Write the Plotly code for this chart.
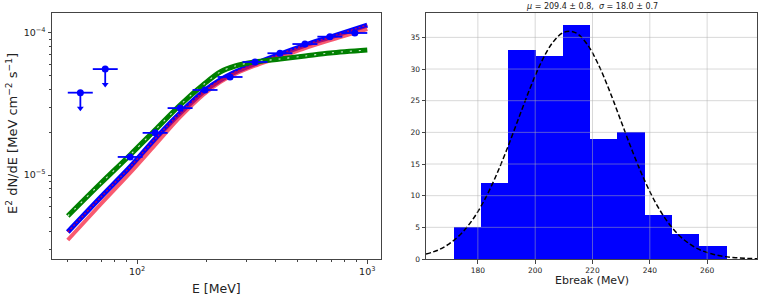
import plotly.graph_objects as go

# ---------------- Left panel: spectral energy distribution ----------------
bin_edges = [50.0, 64.2, 82.4, 105.7, 135.7, 174.2, 223.6, 287.1, 368.5, 473.0, 607.2, 779.4, 1000.0]

ul_energy = [56.7, 72.7]
ul_flux = [3.8e-5, 5.57e-5]

pt_energy = [93.3, 119.8, 153.8, 197.3, 253.4, 325.3, 417.5, 535.9, 687.9, 883.0]
pt_flux = [1.34e-5, 1.98e-5, 2.96e-5, 3.97e-5, 4.9e-5, 6.25e-5, 7.2e-5, 8.36e-5, 9.42e-5, 1.0e-4]

model_energy = [50, 69, 93.2, 119.7, 153.8, 195.6, 229.6, 266.8, 322.6, 418.5, 537.6, 690.5, 1000]
blue_model = [3.97e-6, 6.89e-6, 1.138e-5, 1.793e-5, 2.733e-5, 3.904e-5, 4.667e-5, 5.313e-5,
              6.048e-5, 7.11e-5, 8.23e-5, 9.37e-5, 1.138e-4]
green_model = [5.144e-6, 8.64e-6, 1.383e-5, 2.074e-5, 3.111e-5, 4.373e-5, 5.313e-5, 5.856e-5,
               6.249e-5, 6.561e-5, 6.887e-5, 7.231e-5, 7.59e-5]
red_model = [3.485e-6, 6.147e-6, 1.033e-5, 1.627e-5, 2.562e-5, 3.718e-5, 4.517e-5, 5.144e-5,
             5.856e-5, 6.776e-5, 7.842e-5, 8.928e-5, 1.067e-4]

ul_arrow_factor = 0.778

left_xticks = [100, 1000]
left_xticktext = ["10<sup>2</sup>", "10<sup>3</sup>"]
left_yticks = [1e-5, 1e-4]
left_yticktext = ["10<sup>−5</sup>", "10<sup>−4</sup>"]
left_xminor = [50, 60, 70, 80, 90, 200, 300, 400, 500, 600, 700, 800, 900]
left_yminor = [3e-6, 4e-6, 5e-6, 6e-6, 7e-6, 8e-6, 9e-6,
               2e-5, 3e-5, 4e-5, 5e-5, 6e-5, 7e-5, 8e-5, 9e-5]

# ---------------- Right panel: histogram of Ebreak ----------------
hist_edges = [171.6, 181.1, 190.6, 200.2, 209.7, 219.2, 228.7, 238.3, 247.8, 257.3, 266.8]
hist_counts = [5, 12, 33, 32, 37, 19, 20, 7, 4, 2]

gauss_x = [161.9, 166, 170, 174, 178, 182, 186, 190, 194, 198, 202, 206, 210, 214, 218,
           222, 226, 230, 234, 238, 242, 246, 250, 254, 258, 262, 266, 270, 274, 277.4]
gauss_y = [0.77, 1.39, 2.40, 3.92, 6.11, 9.06, 12.79, 17.17, 21.96, 26.72, 30.95, 34.12,
           35.80, 35.76, 33.99, 30.76, 26.49, 21.71, 16.94, 12.58, 8.90, 5.99, 3.83, 2.34,
           1.35, 0.75, 0.39, 0.20, 0.094, 0.048]

right_xticks = [180, 200, 220, 240, 260]
right_yticks = [0, 5, 10, 15, 20, 25, 30, 35]
title_text = "<i>μ</i> = 209.4 ± 0.8,  <i>σ</i> = 18.0 ± 0.7"

W, H = 758, 296
FONT = "DejaVu Sans"
BLUE = "#0000ff"
FRAME = "#444444"
TXT = "#222222"

fig = go.Figure()

# model curves
spl = dict(shape="spline", smoothing=0.9)
fig.add_trace(go.Scatter(x=model_energy, y=blue_model, mode="lines",
                         line=dict(color=BLUE, width=5, **spl),
                         xaxis="x", yaxis="y", showlegend=False, hoverinfo="skip"))
fig.add_trace(go.Scatter(x=model_energy, y=red_model, mode="lines",
                         line=dict(color="rgba(245,20,50,0.7)", width=4, **spl),
                         xaxis="x", yaxis="y", showlegend=False, hoverinfo="skip"))
fig.add_trace(go.Scatter(x=model_energy, y=blue_model, mode="lines",
                         line=dict(color="rgba(220,0,60,0.8)", width=1.5, dash="2px,2px", **spl),
                         xaxis="x", yaxis="y", showlegend=False, hoverinfo="skip"))
fig.add_trace(go.Scatter(x=model_energy, y=green_model, mode="lines",
                         line=dict(color="#008000", width=5, **spl),
                         xaxis="x", yaxis="y", showlegend=False, hoverinfo="skip"))
fig.add_trace(go.Scatter(x=model_energy, y=green_model, mode="lines",
                         line=dict(color="rgba(255,255,255,0.8)", width=1.1, dash="2px,7px", **spl),
                         xaxis="x", yaxis="y", showlegend=False, hoverinfo="skip"))

# data points with energy-bin error bars
pt_lo = bin_edges[2:12]
pt_hi = bin_edges[3:13]
fig.add_trace(go.Scatter(
    x=pt_energy, y=pt_flux, mode="markers",
    marker=dict(color=BLUE, size=7),
    error_x=dict(type="data", symmetric=False,
                 array=[h - e for h, e in zip(pt_hi, pt_energy)],
                 arrayminus=[e - l for l, e in zip(pt_lo, pt_energy)],
                 color=BLUE, thickness=1.8, width=0),
    xaxis="x", yaxis="y", showlegend=False))

# upper limits
ul_lo = bin_edges[0:2]
ul_hi = bin_edges[1:3]
fig.add_trace(go.Scatter(
    x=ul_energy, y=ul_flux, mode="markers",
    marker=dict(color=BLUE, size=7),
    error_x=dict(type="data", symmetric=False,
                 array=[h - e for h, e in zip(ul_hi, ul_energy)],
                 arrayminus=[e - l for l, e in zip(ul_lo, ul_energy)],
                 color=BLUE, thickness=1.8, width=0),
    error_y=dict(type="data", symmetric=False,
                 array=[0, 0],
                 arrayminus=[f * (1 - ul_arrow_factor) for f in ul_flux],
                 color=BLUE, thickness=1.8, width=0),
    xaxis="x", yaxis="y", showlegend=False))
fig.add_trace(go.Scatter(
    x=ul_energy, y=[f * ul_arrow_factor for f in ul_flux], mode="markers",
    marker=dict(color=BLUE, size=6, symbol="triangle-down"),
    xaxis="x", yaxis="y", showlegend=False))

# histogram
centers = [(a + b) / 2 for a, b in zip(hist_edges[:-1], hist_edges[1:])]
widths = [b - a for a, b in zip(hist_edges[:-1], hist_edges[1:])]
fig.add_trace(go.Bar(x=centers, y=hist_counts, width=widths,
                     marker=dict(color=BLUE, line=dict(width=0)),
                     xaxis="x2", yaxis="y2", showlegend=False))
fig.add_trace(go.Scatter(x=gauss_x, y=gauss_y, mode="lines",
                         line=dict(color="black", width=1.5, dash="5px,2.5px", shape="spline"),
                         xaxis="x2", yaxis="y2", showlegend=False))

# grid lines drawn above the bars (as in the reference)
shapes = []
GRID = "rgba(176,176,176,0.55)"
for v in right_xticks:
    shapes.append(dict(type="line", xref="x2", yref="y2 domain", x0=v, x1=v, y0=0, y1=1,
                       line=dict(color=GRID, width=0.9), layer="above"))
for v in right_yticks[1:]:
    shapes.append(dict(type="line", xref="x2 domain", yref="y2", x0=0, x1=1, y0=v, y1=v,
                       line=dict(color=GRID, width=0.9), layer="above"))

L_x0, L_x1 = 52 / W, 381 / W
R_x0, R_x1 = 426 / W, 757 / W
Y0, Y1 = 1 - 259 / H, 1 - 13 / H

axis_common = dict(showline=True, linecolor=FRAME, linewidth=1, mirror=True,
                   ticks="outside", ticklen=3.5, tickcolor=FRAME, tickwidth=0.8,
                   zeroline=False, showgrid=False, layer="above traces", automargin=False)

fig.update_layout(
    width=W, height=H,
    margin=dict(l=0, r=0, t=0, b=0, pad=0),
    paper_bgcolor="white", plot_bgcolor="white",
    font=dict(family=FONT, color=TXT),
    bargap=0,
    shapes=shapes,
    xaxis=dict(domain=[L_x0, L_x1], type="log", range=[1.6304, 3.0596], anchor="y",
               tickmode="array", tickvals=left_xticks, ticktext=left_xticktext,
               tickfont=dict(size=9.5, family=FONT, color=TXT),
               minor=dict(tickmode="array", tickvals=left_xminor, ticks="outside",
                          ticklen=2, tickcolor=FRAME, tickwidth=0.6, showgrid=False),
               **axis_common),
    yaxis=dict(domain=[Y0, Y1], type="log", range=[-5.5915, -3.8592], anchor="x",
               tickmode="array", tickvals=left_yticks, ticktext=left_yticktext,
               tickfont=dict(size=9.5, family=FONT, color=TXT),
               minor=dict(tickmode="array", tickvals=left_yminor, ticks="outside",
                          ticklen=2, tickcolor=FRAME, tickwidth=0.6, showgrid=False),
               **axis_common),
    xaxis2=dict(domain=[R_x0, R_x1], range=[161.9, 277.4], anchor="y2",
                tickmode="array", tickvals=right_xticks,
                tickfont=dict(size=7.5, family=FONT, color=TXT),
                **axis_common),
    yaxis2=dict(domain=[Y0, Y1], range=[0, 38.85], anchor="x2",
                tickmode="array", tickvals=right_yticks,
                tickfont=dict(size=7.5, family=FONT, color=TXT),
                **axis_common),
    annotations=[
        dict(text="E [MeV]", xref="paper", yref="paper", x=(L_x0 + L_x1) / 2, y=1 - 288 / H,
             xanchor="center", yanchor="middle", showarrow=False,
             font=dict(size=12.5, family=FONT, color=TXT)),
        dict(text="E<sup>2</sup> dN/dE [MeV cm<sup>−2</sup> s<sup>−1</sup>]", xref="paper", yref="paper",
             x=12 / W, y=1 - 134 / H, textangle=-90,
             xanchor="center", yanchor="middle", showarrow=False,
             font=dict(size=13, family=FONT, color=TXT)),
        dict(text="Ebreak (MeV)", xref="paper", yref="paper", x=(R_x0 + R_x1) / 2, y=1 - 280 / H,
             xanchor="center", yanchor="middle", showarrow=False,
             font=dict(size=11, family=FONT, color=TXT)),
        dict(text=title_text, xref="paper", yref="paper", x=(R_x0 + R_x1) / 2, y=1 - 6 / H,
             xanchor="center", yanchor="middle", showarrow=False,
             font=dict(size=8, family=FONT, color=TXT)),
    ],
)

fig.write_html("out.html",
               config={"displayModeBar": False},
               post_script="document.body.style.margin='0';document.body.style.padding='0';"
                           "document.body.style.overflow='hidden';")
